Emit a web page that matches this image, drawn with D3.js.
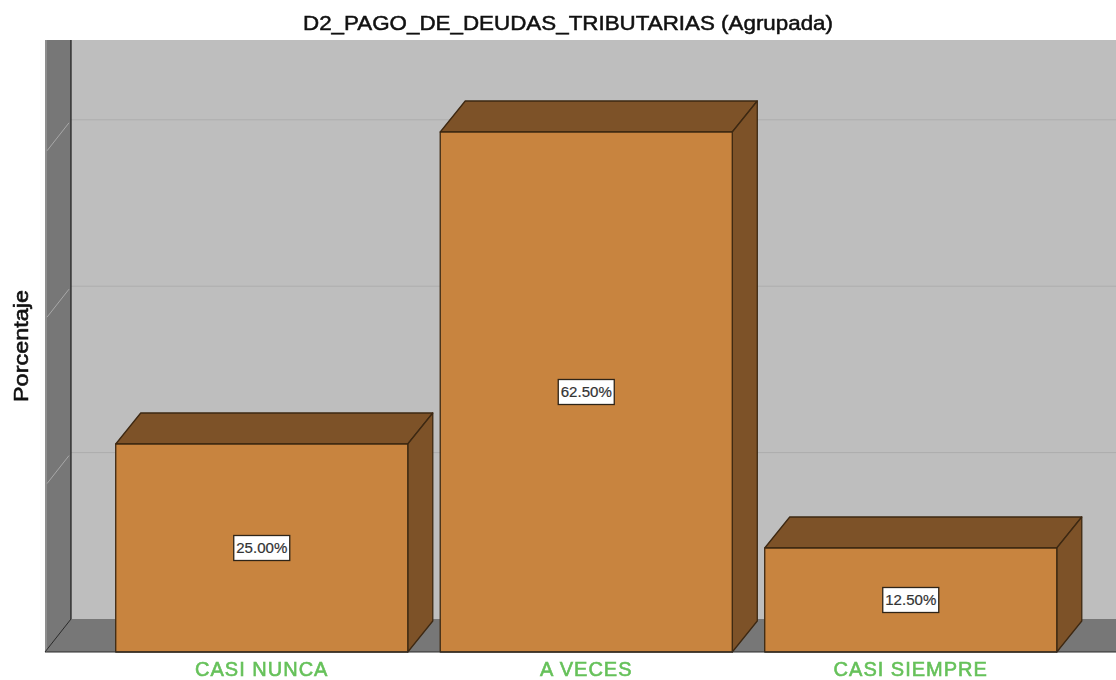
<!DOCTYPE html>
<html>
<head>
<meta charset="utf-8">
<script src="https://cdn.jsdelivr.net/npm/d3@7"></script>
<style>
html,body{margin:0;padding:0;background:#fff;overflow:hidden}
svg{display:block;filter:blur(0.45px)}
text{font-family:"Liberation Sans",Arial,sans-serif}
</style>
</head>
<body>
<svg id="chart" width="1116" height="680"></svg>
<script>
const categories = ["CASI NUNCA", "A VECES", "CASI SIEMPRE"];
const percentages = [25, 62.5, 12.5];
const valueLabels = ["25.00%", "62.50%", "12.50%"];
const gridTicks = [20, 40, 60];
const titleText = "D2_PAGO_DE_DEUDAS_TRIBUTARIAS (Agrupada)";
const yAxisTitle = "Porcentaje";

const W = 1116, H = 680;
const wallX0 = 45, wallX1 = 71, plotTop = 40;
const frontBase = 652;
const depthX = 26, depthY = 33, barDepthX = 25, barDepthY = 31;
const svg = d3.select("#chart");

const x = d3.scaleBand().domain(categories).range([99.5, 1073]).paddingInner(0.1).paddingOuter(0.05);
const y = d3.scaleLinear().domain([0, 62.5]).range([frontBase, 132]);

const C = {front:"#c8843f", dark:"#7d5228", edge:"#3d2812", wall:"#777777", back:"#bebebe", grid:"#adadad", tick:"#a8a8a8", green:"#66c15a"};
const poly = pts => pts.map(p => p.join(",")).join(" ");

// back wall, left wall, floor
svg.append("rect").attr("x", wallX1).attr("y", plotTop).attr("width", W - wallX1).attr("height", frontBase - depthY - plotTop).attr("fill", C.back);
svg.append("rect").attr("x", wallX0).attr("y", plotTop).attr("width", wallX1 - wallX0).attr("height", frontBase - plotTop).attr("fill", C.wall);
svg.append("polygon").attr("points", poly([[wallX0, frontBase], [wallX1, frontBase - depthY], [W, frontBase - depthY], [W, frontBase]])).attr("fill", C.wall);
svg.append("line").attr("x1", wallX0 + 1).attr("x2", wallX0 + 1).attr("y1", plotTop).attr("y2", frontBase).attr("stroke", "#8e8e8e").attr("stroke-width", 2);

// gridlines on the back wall and their slanted ticks on the left wall
svg.selectAll("line.grid").data(gridTicks).join("line").attr("class", "grid")
  .attr("x1", wallX1).attr("x2", W)
  .attr("y1", d => y(d) - depthY).attr("y2", d => y(d) - depthY)
  .attr("stroke", C.grid).attr("stroke-width", 1);
svg.selectAll("line.wtick").data(gridTicks).join("line").attr("class", "wtick")
  .attr("x1", wallX0 + 2).attr("x2", wallX1 - 2)
  .attr("y1", d => y(d) - 2).attr("y2", d => y(d) - depthY + 3)
  .attr("stroke", C.tick).attr("stroke-width", 1);

svg.append("line").attr("x1", wallX1).attr("x2", wallX1).attr("y1", plotTop).attr("y2", frontBase - depthY).attr("stroke", "#1c1c1c").attr("stroke-width", 1.2);
svg.append("line").attr("x1", wallX0).attr("x2", wallX1).attr("y1", frontBase).attr("y2", frontBase - depthY).attr("stroke", "#2a2a2a").attr("stroke-width", 1);

// bars
const bars = svg.selectAll("g.bar").data(categories).join("g").attr("class", "bar");
const barStyle = s => s.attr("stroke", C.edge).attr("stroke-width", 1.3).attr("stroke-linejoin", "round");
bars.append("polygon").attr("fill", C.dark).call(barStyle)
  .attr("points", (c, i) => { const l = x(c), r = l + x.bandwidth(), t = y(percentages[i]);
    return poly([[l, t], [l + barDepthX, t - barDepthY], [r + barDepthX, t - barDepthY], [r, t]]); });
bars.append("polygon").attr("fill", C.dark).call(barStyle)
  .attr("points", (c, i) => { const r = x(c) + x.bandwidth(), t = y(percentages[i]);
    return poly([[r, t], [r + barDepthX, t - barDepthY], [r + barDepthX, frontBase - barDepthY], [r, frontBase]]); });
bars.append("rect").attr("fill", C.front).call(barStyle)
  .attr("x", c => x(c)).attr("width", x.bandwidth())
  .attr("y", (c, i) => y(percentages[i])).attr("height", (c, i) => frontBase - y(percentages[i]));

// baseline
svg.append("line").attr("x1", wallX0).attr("x2", W).attr("y1", frontBase).attr("y2", frontBase).attr("stroke", "#2b2b2b").attr("stroke-width", 1.2);

// value labels
const labels = svg.selectAll("g.vlabel").data(categories).join("g").attr("class", "vlabel")
  .attr("transform", (c, i) => `translate(${x(c) + x.bandwidth() / 2},${(y(percentages[i]) + frontBase) / 2})`);
labels.append("rect").attr("x", -28).attr("y", -12.5).attr("width", 56).attr("height", 25)
  .attr("fill", "#fff").attr("stroke", "#2e2418").attr("stroke-width", 1.3);
labels.append("text").attr("text-anchor", "middle").attr("dy", "0.36em")
  .attr("font-size", 14).attr("fill", "#333").attr("stroke", "#333").attr("stroke-width", 0.2)
  .attr("textLength", 51).attr("lengthAdjust", "spacingAndGlyphs")
  .text((c, i) => valueLabels[i]);

// category labels
svg.selectAll("text.cat").data(categories).join("text").attr("class", "cat")
  .attr("x", c => x(c) + x.bandwidth() / 2).attr("y", 675.5)
  .attr("text-anchor", "middle").attr("font-size", 20).attr("letter-spacing", 1).attr("fill", C.green)
  .attr("stroke", C.green).attr("stroke-width", 0.6)
  .text(c => c);

// titles
svg.append("text").attr("x", 568).attr("y", 30).attr("text-anchor", "middle")
  .attr("font-size", 20.5).attr("fill", "#111").attr("stroke", "#111").attr("stroke-width", 0.5)
  .attr("textLength", 530).attr("lengthAdjust", "spacingAndGlyphs").text(titleText);
svg.append("text").attr("transform", "translate(28,346) rotate(-90)").attr("text-anchor", "middle")
  .attr("font-size", 20).attr("fill", "#111").attr("stroke", "#111").attr("stroke-width", 0.6)
  .attr("textLength", 112).attr("lengthAdjust", "spacingAndGlyphs").text(yAxisTitle);
</script>
</body>
</html>
